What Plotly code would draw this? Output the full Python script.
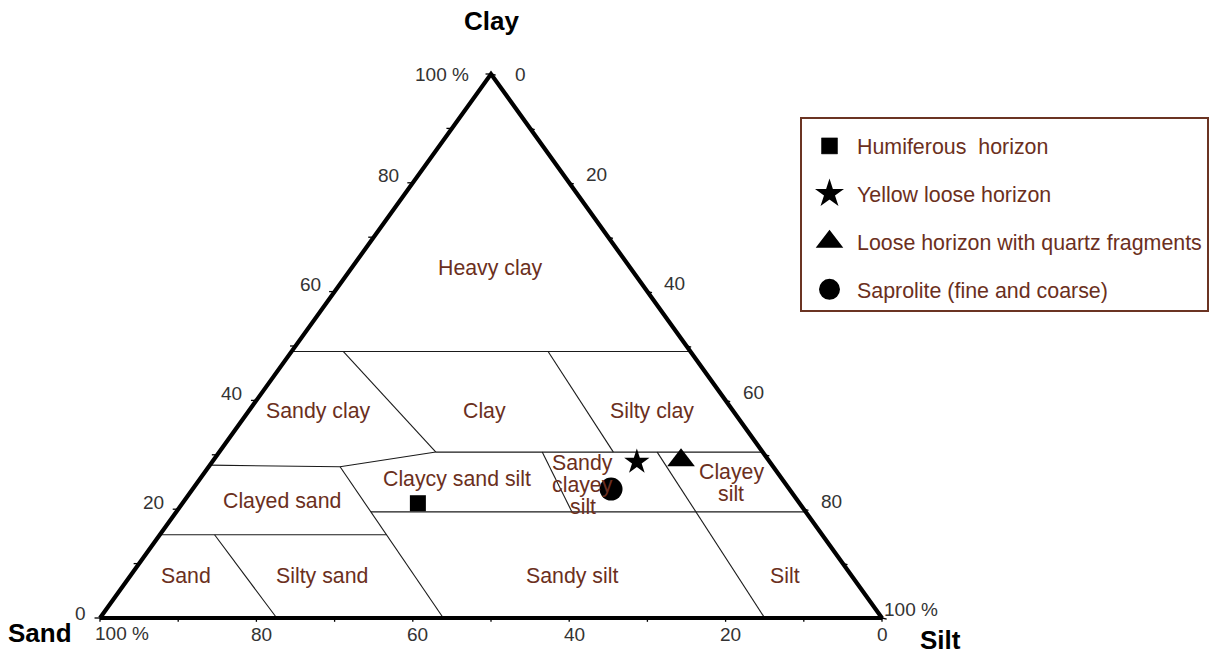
import plotly.graph_objects as go

# ---------------- data ----------------
# Samples: percent clay, percent silt (sand = 100 - clay - silt)
sample_names = ["Humiferous  horizon", "Yellow loose horizon",
                "Loose horizon with quartz fragments", "Saprolite (fine and coarse)"]
sample_clay = [21.1, 28.7, 29.0, 23.7]
sample_silt = [30.1, 54.3, 59.8, 53.5]

# Texture classes (label anchor in percent clay / percent silt)
class_names = ["Heavy clay", "Sandy clay", "Clay", "Silty clay", "Claycy sand silt",
               "Sandy<br>clayey<br>silt", "Clayey<br>silt", "Clayed sand",
               "Sand", "Silty sand", "Sandy silt", "Silt"]
class_clay = [64.3, 38.0, 38.0, 38.0, 25.5, 24.5, 24.8, 21.5, 7.7, 7.7, 7.7, 7.7]
class_silt = [17.8, 8.9, 30.2, 51.6, 32.9, 49.5, 68.3, 12.5, 7.2, 24.5, 56.5, 83.8]

# Class boundaries: polylines, vertices given as clay % and silt %
boundary_clay = [
    [49.0, 49.0],
    [49.0, 30.5],
    [49.0, 30.5],
    [30.5, 30.5],
    [28.1, 27.8, 30.5],
    [27.8, 0.0],
    [15.3, 15.3],
    [15.3, 0.0],
    [19.5, 19.5],
    [30.5, 19.5],
    [30.5, 0.0],
]
boundary_silt = [
    [0.0, 51.0],
    [6.6, 27.7],
    [32.8, 50.4],
    [27.7, 69.5],
    [0.0, 16.8, 27.7],
    [16.8, 43.9],
    [0.0, 29.0],
    [7.0, 22.6],
    [24.9, 80.5],
    [41.3, 50.6],
    [56.0, 85.0],
]

# Axis ticks
tick_values = [0, 10, 20, 30, 40, 50, 60, 70, 80, 90, 100]
label_values = [0, 20, 40, 60, 80, 100]
label_texts = ["0", "20", "40", "60", "80", "100 %"]
axis_titles = ["Clay", "Sand", "Silt"]


# ---------------- helpers ----------------
def tern_xy(clay, silt):
    """Ternary (clay, silt) -> Cartesian coordinates of the diagram."""
    return silt + clay / 2.0, clay


BROWN = "#6b2f20"
FONT = "Liberation Sans, Arial, sans-serif"
W, H = 1219, 653
OFF = 8  # page body margin

fig = go.Figure()

# class boundaries
bx, by = [], []
for cl, si in zip(boundary_clay, boundary_silt):
    for c, s in zip(cl, si):
        x, y = tern_xy(c, s)
        bx.append(x)
        by.append(y)
    bx.append(None)
    by.append(None)
fig.add_trace(go.Scatter(x=bx, y=by, mode="lines", line=dict(color="#1a1a1a", width=1.1),
                         showlegend=False, hoverinfo="skip"))

# ticks
TL = 0.7
tx, ty = [], []
for v in tick_values:
    for c, s in [(v, 0), (v, -TL)]:          # clay axis (left edge)
        x, y = tern_xy(c, s)
        tx.append(x); ty.append(y)
    tx.append(None); ty.append(None)
    for c, s in [(100 - v, v), (100 - v - TL * 0.3, v + TL)]:   # silt axis (right edge)
        x, y = tern_xy(c, s)
        tx.append(x); ty.append(y)
    tx.append(None); ty.append(None)
    x, y = tern_xy(0, 100 - v)               # sand axis (bottom edge)
    tx += [x, x, None]
    ty += [y, y - TL, None]
fig.add_trace(go.Scatter(x=tx, y=ty, mode="lines", line=dict(color="black", width=1.3),
                         showlegend=False, hoverinfo="skip"))

# outer triangle
corners = [(0, 0), (0, 100), (100, 0), (0, 0)]
ox = [tern_xy(c, s)[0] for c, s in corners]
oy = [tern_xy(c, s)[1] for c, s in corners]
fig.add_trace(go.Scatter(x=ox, y=oy, mode="lines", line=dict(color="black", width=4.2),
                         showlegend=False, hoverinfo="skip"))

# samples (drawn)
symbols = ["square", "star", "triangle-up", "circle"]
sizes = [16, 19, 24, 23]
for i, (n, c, s) in enumerate(zip(sample_names, sample_clay, sample_silt)):
    x, y = tern_xy(c, s)
    fig.add_trace(go.Scatter(x=[x], y=[y], mode="markers", name=n, legendgroup=str(i),
                             showlegend=False,
                             marker=dict(symbol=symbols[i], size=sizes[i], color="black",
                                         line=dict(width=0))))

# legend entries (same series, symbol enlarged through outline)
leg_line = [0.5, 2.5, 4.5, 5]
for i, n in enumerate(sample_names):
    fig.add_trace(go.Scatter(x=[None], y=[None], mode="markers", name=n, legendgroup=str(i),
                             marker=dict(symbol=symbols[i], size=16, color="black",
                                         line=dict(width=leg_line[i], color="black"))))

annotations = []
for n, c, s in zip(class_names, class_clay, class_silt):
    x, y = tern_xy(c, s)
    lines = n.split("<br>")
    k = len(lines)
    for j, line in enumerate(lines):
        annotations.append(dict(x=x, y=y, text=line, showarrow=False,
                                xanchor="center", yanchor="middle",
                                yshift=(k - 1) * 11 - j * 22,
                                font=dict(family=FONT, size=21.3, color=BROWN)))

tick_font = dict(family=FONT, size=19, color="#333333")


def lab(x, y, t, xa, xs, ys):
    annotations.append(dict(x=x, y=y, text=t, showarrow=False, xanchor=xa,
                            yanchor="middle", xshift=xs, yshift=ys, font=tick_font))


for v, t in zip(label_values, label_texts):
    x, y = tern_xy(v, 0)                     # clay (left edge)
    if v == 100:
        lab(x, y, t, "right", -20, 0)
    elif v == 0:
        lab(x, y, t, "right", -12, 5)
    else:
        lab(x, y, t, "right", -12, 7)
    x, y = tern_xy(100 - v, v)               # silt (right edge)
    if v == 0:
        lab(x, y, t, "left", 22, 0)
    elif v == 100:
        lab(x, y, t, "left", 0, 9)
    else:
        lab(x, y, t, "left", 15, 8)
    x, y = tern_xy(0, 100 - v)               # sand (bottom edge)
    if v == 100:
        lab(x, y, t, "left", -7, -15)
    else:
        lab(x, y, t, "center", 5 if v > 0 else 0, -16)

title_font = dict(family=FONT, size=26, color="black")
ax_, ay_ = tern_xy(100, 0)
annotations.append(dict(x=ax_, y=ay_, text="<b>" + axis_titles[0] + "</b>", showarrow=False,
                        xanchor="center", yanchor="middle", yshift=53, font=title_font))
ax_, ay_ = tern_xy(0, 0)
annotations.append(dict(x=ax_, y=ay_, text="<b>" + axis_titles[1] + "</b>", showarrow=False,
                        xanchor="center", yanchor="middle", xshift=-60, yshift=-15, font=title_font))
ax_, ay_ = tern_xy(0, 100)
annotations.append(dict(x=ax_, y=ay_, text="<b>" + axis_titles[2] + "</b>", showarrow=False,
                        xanchor="center", yanchor="middle", xshift=58, yshift=-22, font=title_font))

# screen pixel (px, py) of the corners: Sand (100, 618), Silt (882, 618), Clay (491, 74)
sx = 7.82
sy = 5.44
x_lo = (OFF - 100) / sx
x_hi = (OFF + W - 100) / sx
y_hi = (618 - OFF) / sy
y_lo = (618 - OFF - H) / sy

fig.update_layout(
    width=W, height=H,
    margin=dict(l=0, r=0, t=0, b=0),
    paper_bgcolor="white", plot_bgcolor="white",
    xaxis=dict(range=[x_lo, x_hi], visible=False),
    yaxis=dict(range=[y_lo, y_hi], visible=False),
    annotations=annotations,
    font=dict(family=FONT),
    showlegend=True,
    legend=dict(x=(800 - OFF) / W, y=1 - (117 - OFF) / H, xanchor="left", yanchor="top",
                bordercolor="#6b3423", borderwidth=2, bgcolor="white",
                title=dict(text=" ", font=dict(size=5)),
                font=dict(family=FONT, size=21.4, color=BROWN),
                tracegroupgap=17, itemsizing="trace", itemwidth=45, entrywidth=377),
)

fig.write_html("out.html")
